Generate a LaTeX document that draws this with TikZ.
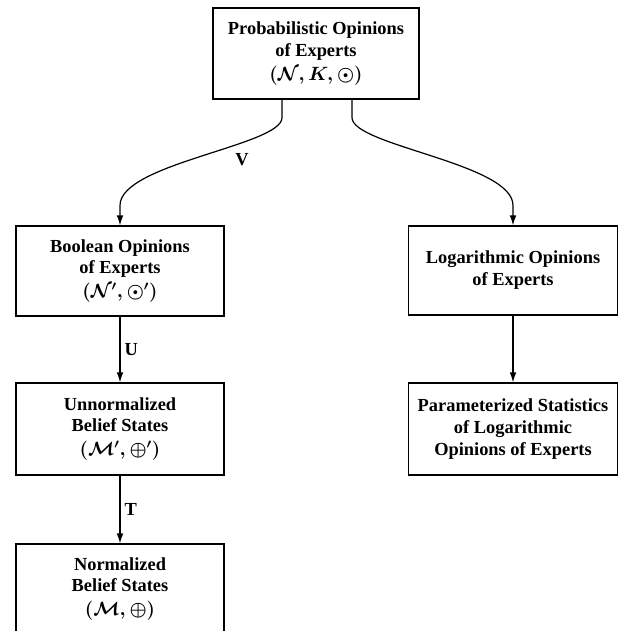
\documentclass[tikz,border=0pt]{standalone}
\usepackage{fontspec}
\setmainfont{Liberation Serif}
\usepackage{amsmath}
\usetikzlibrary{arrows.meta}
\newcommand{\bs}{\fontsize{13.8}{16.4}\selectfont\bfseries\boldmath}
\tikzset{
  box/.style={draw, line width=0.9pt, align=center, font=\bs, inner sep=0pt},
  flow/.style={line width=0.9pt, -{Latex[length=7.5pt,width=5pt]}},
  lbl/.style={font=\bs, inner sep=3pt}
}

\begin{document}
\begin{tikzpicture}[x=0.75pt,y=-0.75pt]
   \useasboundingbox (0,0) rectangle (621,631);
   \node[box,minimum width=154.5pt,minimum height=68.25pt] (prob)   at (316,53.5)  {Probabilistic Opinions\\of Experts\\[1.5pt]$(\mathcal{N},K,\odot)$};
   \node[box,minimum width=156pt,minimum height=67.5pt]    (bool)   at (120,271)   {Boolean Opinions\\of Experts\\[1.5pt]$(\mathcal{N}',\odot')$};
   \node[box,minimum width=156pt,minimum height=69pt]      (unnorm) at (120,429)   {Unnormalized\\Belief States\\[1.5pt]$(\mathcal{M}',\oplus')$};
   \node[box,minimum width=156pt,minimum height=67.5pt]    (norm)   at (120,589)   {Normalized\\Belief States\\[1.5pt]$(\mathcal{M},\oplus)$};
   \node[box,minimum width=156.75pt,minimum height=66.75pt] (loga)  at (513,270.5) {Logarithmic Opinions\\of Experts};
   \node[box,minimum width=156.75pt,minimum height=69pt]   (param)  at (513,429) {Parameterized Statistics\\of Logarithmic\\Opinions of Experts};
   \draw[flow] ([xshift=-25.5pt]prob.south) -- ++(0,18) .. controls +(0,28) and +(0,-42) .. ([yshift=15pt]bool.north) -- (bool.north);
   \draw[flow] ([xshift=27pt]prob.south) -- ++(0,18) .. controls +(0,28) and +(0,-42) .. ([yshift=15pt]loga.north) -- (loga.north);
   \node[lbl] (v) at (242,160) {V};
   \draw[flow] (bool)   -- node[lbl,right] (u) {U} (unnorm);
   \draw[flow] (unnorm) -- node[lbl,right] (t) {T} (norm);
   \draw[flow] (loga.south) -- (param.north);
\end{tikzpicture}
\end{document}
